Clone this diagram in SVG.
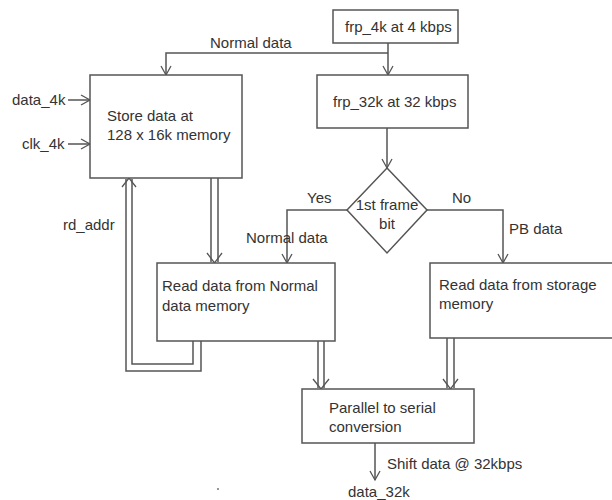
<svg xmlns="http://www.w3.org/2000/svg" width="612" height="500" viewBox="0 0 612 500">
<defs>
<style>
.box{fill:#fff;stroke:#555;stroke-width:1.5}
.ln{fill:none;stroke:#555;stroke-width:1.5}
.ah{fill:none;stroke:#555;stroke-width:1.3}
text{font-family:"Liberation Sans",Arial,sans-serif;font-size:15px;fill:#333}
</style>
<marker id="arr" markerWidth="14" markerHeight="14" refX="10" refY="6" orient="auto" markerUnits="userSpaceOnUse">
<polyline points="1,1 10,6 1,11" fill="none" stroke="#555" stroke-width="1.3"/>
</marker>
</defs>
<rect width="612" height="500" fill="#fff"/>

<g id="connectors">
<path class="ln" d="M388,43 V75" marker-end="url(#arr)"/>
<path class="ln" d="M388,53 H166 V75" marker-end="url(#arr)"/>
<text x="210" y="48">Normal data</text>
<path class="ln" d="M68,100 H90" marker-end="url(#arr)"/>
<path class="ln" d="M68,144 H90" marker-end="url(#arr)"/>
<path class="ln" d="M387,128 V168" marker-end="url(#arr)"/>
<path class="ln" d="M347,210 H287 V263" marker-end="url(#arr)"/>
<text x="307" y="203">Yes</text>
<text x="246" y="243">Normal data</text>
<path class="ln" d="M427,210 H503 V263" marker-end="url(#arr)"/>
<text x="452" y="203">No</text>
<text x="509" y="234">PB data</text>
<path class="ln" d="M211,178 V262 M218,178 V262"/>
<polyline class="ah" points="207,253 214.5,263 222,253"/>
<path class="ln" d="M201,341 V371 H126 V179 M193,341 V364 H132 V179"/>
<polyline class="ah" points="122,187 129,178 136,187"/>
<text x="63" y="230">rd_addr</text>
<path class="ln" d="M318,341 V388 M324,341 V388"/>
<polyline class="ah" points="313,379 321,389 329,379"/>
<path class="ln" d="M447,338 V388 M454,338 V388"/>
<polyline class="ah" points="443,379 450.5,389 458,379"/>
<path class="ln" d="M375,443 V480" marker-end="url(#arr)"/>
<text x="387" y="469">Shift data @ 32kbps</text>
<text x="348" y="497">data_32k</text>
</g>

<g id="frp4k">
<rect class="box" x="333" y="10" width="125" height="33"/>
<text x="345" y="32">frp_4k at 4 kbps</text>
</g>
<g id="frp32k">
<rect class="box" x="317" y="75" width="151" height="53"/>
<text x="333" y="107">frp_32k at 32 kbps</text>
</g>
<g id="store">
<rect class="box" x="90" y="75" width="152" height="103"/>
<text x="107" y="121">Store data at</text>
<text x="107" y="140">128 x 16k memory</text>
</g>
<g id="inputs">
<text x="12" y="105">data_4k</text>
<text x="22" y="149">clk_4k</text>
</g>
<g id="decision">
<polygon class="box" points="387,168 427,210 387,253 347,210"/>
<text x="387" y="210" text-anchor="middle">1st frame</text>
<text x="387" y="229" text-anchor="middle">bit</text>
</g>
<g id="readNormal">
<rect class="box" x="157" y="263" width="178" height="78"/>
<text x="162" y="291">Read data from Normal</text>
<text x="162" y="311">data memory</text>
</g>
<g id="readStorage">
<rect class="box" x="430" y="263" width="190" height="75"/>
<text x="439" y="290">Read data from storage</text>
<text x="439" y="309">memory</text>
</g>
<g id="p2s">
<rect class="box" x="302" y="389" width="172" height="54"/>
<text x="329" y="413">Parallel to serial</text>
<text x="329" y="432">conversion</text>
</g>
<circle cx="218" cy="489" r="0.9" fill="#666"/>
</svg>
